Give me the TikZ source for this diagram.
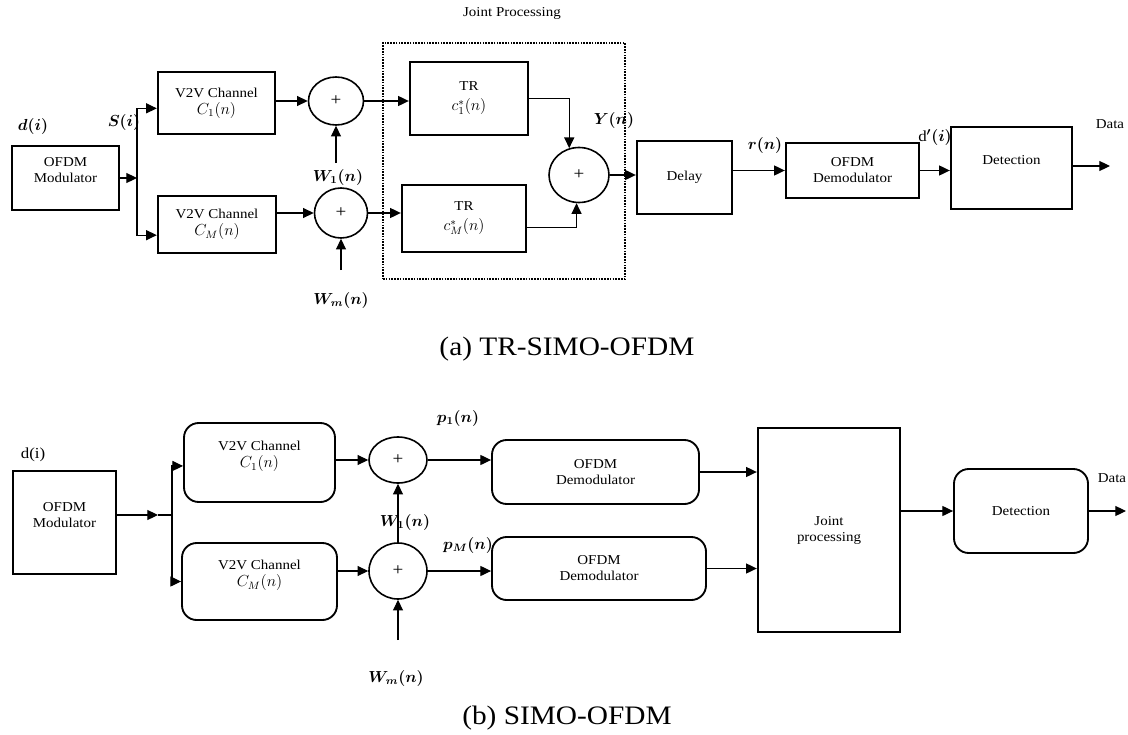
\documentclass[tikz,border=0pt]{standalone}
\usepackage{fontspec}
\setmainfont{Liberation Serif}[FakeStretch=1.1]
\usetikzlibrary{arrows.meta,positioning,shapes.geometric}
\newcommand{\boxmath}[1]{{\fontsize{12}{12}\selectfont$#1$}}

\begin{document}
\begin{tikzpicture}[x=0.75pt,y=-0.75pt,>={Triangle[length=8pt,width=7.5pt]},
  every node/.style={font=\fontsize{10.2}{12}\selectfont},
  blk/.style={draw,line width=1.8pt,align=center,inner sep=1pt},
  rblk/.style={draw,line width=1.4pt,rounded corners=11pt,align=center,inner sep=1pt},
  adder/.style={draw,ellipse,line width=1.2pt,inner sep=0pt,font=\fontsize{13}{13}\selectfont},
  sig/.style={font=\fontsize{11.5}{13}\selectfont\boldmath},
  wire/.style={line width=0.8pt},
  arr/.style={->,line width=0.8pt},
  caption/.style={font=\fontsize{20}{24}\selectfont}]
\useasboundingbox (0,0) rectangle (1128,735);

% (a) TR-SIMO-OFDM
\node (jplab) at (512,13) {Joint Processing};
\node[draw,line width=1.8pt,dash pattern=on 1.2pt off 0.9pt,inner sep=0pt,minimum width=181.5pt,minimum height=177pt] (jpbox) at (504,161) {};
\node[sig] (da) at (33,127) {$d(i)$};
\node[blk,minimum width=80.25pt,minimum height=48pt] (moda) at (65.5,178) {OFDM\\Modulator\\\mbox{}};
\node[sig] (sa) at (124,123) {$S(i)$};
\coordinate (splita) at (137,178);
\node[blk,minimum width=87.75pt,minimum height=46.5pt] (cha1) at (216.5,103) {V2V Channel\\[1pt]\boxmath{C_1(n)}};
\node[blk,minimum width=88.5pt,minimum height=42.75pt] (chaM) at (217,224.5) {V2V Channel\\[1pt]\boxmath{C_M(n)}};
\node[adder,minimum width=41.25pt,minimum height=36pt] (suma1) at (336,101) {+};
\node[adder,minimum width=39.75pt,minimum height=37.5pt] (sumaM) at (341,213) {+};
\coordinate (wa1) at (336,163);
\coordinate (waM) at (341,270);
\node[sig] (wa1lab) at (338,177) {$W_1(n)$};
\node[sig] (waMlab) at (341,300) {$W_m(n)$};
\node[blk,minimum width=88.5pt,minimum height=54.75pt] (tr1) at (469,98.5) {TR\\[3pt]\boxmath{c_1^*(n)}};
\node[blk,minimum width=93pt,minimum height=50.25pt] (trM) at (464,218.5) {TR\\[3pt]\boxmath{c_M^*(n)}};
\node[adder,minimum width=45pt,minimum height=41.25pt] (suma) at (579,175) {+};
\node[sig] (ya) at (614,120) {$Y(n)$};
\node[blk,minimum width=71.25pt,minimum height=54.75pt] (delay) at (684.5,177.5) {Delay};
\node[sig] (ra) at (765,145) {$r(n)$};
\node[blk,minimum width=99.75pt,minimum height=41.25pt] (dema) at (852.5,170.5) {OFDM\\Demodulator};
\node[sig] (dpa) at (935,137) {d$'(i)$};
\node[blk,minimum width=90.75pt,minimum height=61.5pt] (deta) at (1011.5,168) {Detection\\\mbox{}};
\coordinate (outa) at (1110,166);
\node (dataa) at (1110,124) {Data};
\node[caption] (capa) at (567,349) {(a) TR-SIMO-OFDM};

\draw[arr] (moda.east) -- (splita);
\draw[arr] (splita) |- ([yshift=-4pt]cha1.west);
\draw[arr] (splita) |- ([yshift=-8pt]chaM.west);
\draw[arr] (cha1.east |- suma1.west) -- (suma1.west);
\draw[arr] (chaM.east |- sumaM.west) -- (sumaM.west);
\draw[arr] (wa1) -- (suma1.south);
\draw[arr] (waM) -- (sumaM.south);
\draw[arr] (suma1.east) -- (tr1.west |- suma1.east);
\draw[arr] (sumaM.east) -- (trM.west |- sumaM.east);
\draw[arr] (tr1.east) -| (suma.110);
\draw[arr] ([yshift=-7pt]trM.east) -| (suma.265);
\draw[arr] (suma.east) -- (delay.west |- suma.east);
\draw[arr] (delay.east |- dema.west) -- (dema.west);
\draw[arr] (dema.east) -- (deta.west |- dema.east);
\draw[arr] (deta.east |- outa) -- (outa);

% (b) SIMO-OFDM
\node[sig] (db) at (33,455) {d(i)};
\node[blk,minimum width=77.25pt,minimum height=77.25pt] (modb) at (64.5,522.5) {OFDM\\Modulator\\\mbox{}};
\coordinate (tipb) at (158,515);
\coordinate (splitb) at (172,515);
\node[rblk,minimum width=113.25pt,minimum height=59.25pt] (chb1) at (259.5,462.5) {V2V Channel\\[1pt]\boxmath{C_1(n)}\\\mbox{}};
\node[rblk,minimum width=116.25pt,minimum height=57.75pt] (chbM) at (259.5,581.5) {V2V Channel\\[1pt]\boxmath{C_M(n)}\\\mbox{}};
\node[adder,minimum width=43.5pt,minimum height=34.5pt] (sumb1) at (398,460) {+};
\node[adder,minimum width=43.5pt,minimum height=42pt] (sumbM) at (398,571) {+};
\node[sig] (wb1lab) at (405,522) {$W_1(n)$};
\coordinate (wbM) at (398,640);
\node[sig] (wbMlab) at (396,678) {$W_m(n)$};
\node[sig] (pb1) at (458,418) {$p_1(n)$};
\node[sig] (pbM) at (468,545) {$p_M(n)$};
\node[rblk,minimum width=155.25pt,minimum height=48pt] (demb1) at (595.5,472) {OFDM\\Demodulator};
\node[rblk,minimum width=160.5pt,minimum height=47.25pt] (dembM) at (599,568.5) {OFDM\\Demodulator};
\node[blk,minimum width=106.5pt,minimum height=153pt] (jpb) at (829,530) {Joint\\processing};
\node[rblk,minimum width=100.5pt,minimum height=63pt] (detb) at (1021,511) {Detection};
\coordinate (outb) at (1126,508);
\node (datab) at (1112,478) {Data};
\node[caption] (capb) at (567,718) {(b) SIMO-OFDM};

\draw[arr] (modb.east |- tipb) -- (tipb);
\draw[wire] (tipb) -- (splitb);
\draw[arr] (splitb) |- ([yshift=-2.6pt]chb1.west);
\draw[arr] (splitb) |- (chbM.west);
\draw[arr] (chb1.east |- sumb1.west) -- (sumb1.west);
\draw[arr] (chbM.east |- sumbM.west) -- (sumbM.west);
\draw[arr] (sumbM.north) -- (sumb1.south);
\draw[arr] (wbM) -- (sumbM.south);
\draw[arr] (sumb1.east) -- (demb1.west |- sumb1.east);
\draw[arr] (sumbM.east) -- (dembM.west |- sumbM.east);
\draw[arr] (demb1.east) -- (jpb.west |- demb1.east);
\draw[arr] (dembM.east) -- (jpb.west |- dembM.east);
\draw[arr] (jpb.east |- detb.west) -- (detb.west);
\draw[arr] (detb.east) -- (detb.east -| outb);
\end{tikzpicture}
\end{document}
